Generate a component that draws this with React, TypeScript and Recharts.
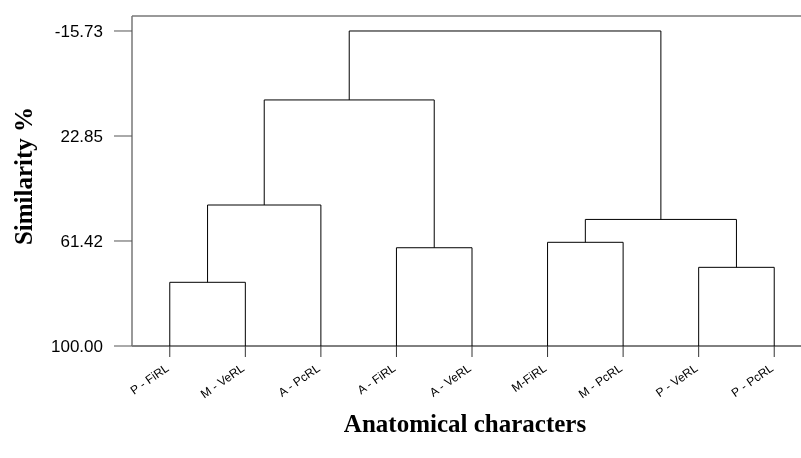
import { Label, Line, LineChart, ReferenceLine, XAxis, YAxis } from "recharts";

// leaves of the dendrogram, left to right
const LEAVES = [
  "P - FiRL", "M - VeRL", "A - PcRL", "A - FiRL", "A - VeRL",
  "M-FiRL", "M - PcRL", "P - VeRL", "P - PcRL",
];
const LEAF_SIM = 100;

// merges in order: node ids 0-8 are leaves, 9+ are the clusters made here
const MERGE_A = [0, 7, 3, 5, 12, 9, 14, 15];
const MERGE_B = [1, 8, 4, 6, 10, 2, 11, 13];
const MERGE_SIM = [76.6, 71.1, 63.9, 61.9, 53.5, 48.2, 9.6, -15.73];

const Y_TICKS = [-15.73, 22.85, 61.42, 100];
const Y_DOMAIN = [-21.24, 100];
const X_TICKS = LEAVES.map((_, i) => i + 1);

type Pt = { x: number; y: number };

function buildLinks(): Pt[][] {
  const nodes: Pt[] = LEAVES.map((_, i) => ({ x: i + 1, y: LEAF_SIM }));
  const links: Pt[][] = [];
  MERGE_A.forEach((a, k) => {
    const na = nodes[a];
    const nb = nodes[MERGE_B[k]];
    const h = MERGE_SIM[k];
    links.push([
      { x: na.x, y: na.y },
      { x: na.x, y: h },
      { x: nb.x, y: h },
      { x: nb.x, y: nb.y },
    ]);
    nodes.push({ x: (na.x + nb.x) / 2, y: h });
  });
  return links;
}

const links = buildLinks();

const sans = "'Liberation Sans', Arial, sans-serif";
const serif = "'Liberation Serif', 'Times New Roman', serif";

function LeafTick({ x, y, payload }: any) {
  return (
    <g transform={`translate(${x},${y + 11})`}>
      <text
        textAnchor="end"
        transform="rotate(-35)"
        fontSize={12}
        fontFamily={sans}
        fill="#000"
      >
        {LEAVES[payload.value - 1]}
      </text>
    </g>
  );
}

function YTitle({ viewBox }: any) {
  const cx = viewBox.x + 15;
  const cy = viewBox.y + viewBox.height / 2 - 5;
  return (
    <text
      x={cx}
      y={cy}
      transform={`rotate(-90, ${cx}, ${cy})`}
      textAnchor="middle"
      dominantBaseline="central"
      fontFamily={serif}
      fontWeight="bold"
      fontSize={25}
      fill="#000"
    >
      Similarity %
    </text>
  );
}

function XTitle({ viewBox }: any) {
  return (
    <text
      x={viewBox.x + viewBox.width / 2 - 7}
      y={viewBox.y + 86}
      textAnchor="middle"
      fontFamily={serif}
      fontWeight="bold"
      fontSize={25}
      fill="#000"
    >
      Anatomical characters
    </text>
  );
}

export default function App() {
  return (
    <div
      style={{
        position: "fixed",
        left: 8,
        top: 8,
        width: 793,
        height: 442,
        overflow: "hidden",
        fontFamily: sans,
      }}
    >
      <LineChart width={806} height={442} margin={{ top: 8, right: 2, bottom: 0, left: 0 }}>
        <XAxis
          type="number"
          dataKey="x"
          domain={[0.5, 9.5]}
          ticks={X_TICKS}
          interval={0}
          height={104}
          tickSize={11}
          tickLine={{ stroke: "#333" }}
          axisLine={{ stroke: "#000" }}
          tick={<LeafTick />}
        >
          <Label content={<XTitle />} />
        </XAxis>
        <YAxis
          type="number"
          dataKey="y"
          domain={Y_DOMAIN}
          reversed
          allowDataOverflow
          ticks={Y_TICKS}
          width={124}
          tickSize={18}
          tickMargin={11}
          tickLine={{ stroke: "#555" }}
          axisLine={{ stroke: "#777", strokeWidth: 1.5 }}
          tick={{ fill: "#000", fontSize: 17, fontFamily: sans }}
          tickFormatter={(v) => Number(v).toFixed(2)}
        >
          <Label content={<YTitle />} />
        </YAxis>
        {/* frame line along the top of the plot */}
        <ReferenceLine y={Y_DOMAIN[0]} stroke="#777" strokeWidth={1.5} ifOverflow="visible" />
        {links.map((pts, i) => (
          <Line
            key={i}
            data={pts}
            dataKey="y"
            type="linear"
            stroke="#000"
            strokeWidth={1}
            dot={false}
            activeDot={false}
            isAnimationActive={false}
          />
        ))}
      </LineChart>
    </div>
  );
}
